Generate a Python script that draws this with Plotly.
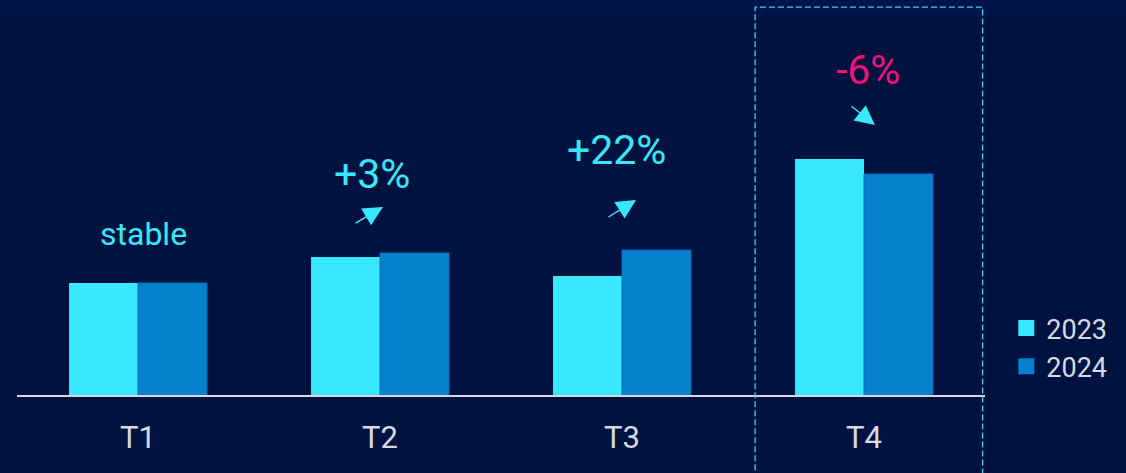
import plotly.graph_objects as go

categories = ["T1", "T2", "T3", "T4"]
values_2023 = [112, 138, 119, 236]
values_2024 = [112, 142, 145, 221]
change_labels = ["stable", "+3%", "+22%", "-6%"]
series_names = ["2023", "2024"]

C23 = "#38e8ff"
C24 = "#0681cd"
BG = "#001240"

fig = go.Figure()
fig.add_trace(go.Bar(x=categories, y=values_2023, name=series_names[0], showlegend=False,
                     marker=dict(color=C23, line=dict(width=0))))
fig.add_trace(go.Bar(x=categories, y=values_2024, name=series_names[1], showlegend=False,
                     marker=dict(color=C24, line=dict(color="#0a6fb5", width=1))))
# legend entries with larger square swatches
for nm, col in zip(series_names, [C23, C24]):
    fig.add_trace(go.Scatter(x=[None], y=[None], mode="markers", name=nm,
                             marker=dict(symbol="square", size=16, color=col, line=dict(width=0))))

ann = []
ann.append(dict(x=0.021, y=161, text=change_labels[0], showarrow=False,
                font=dict(size=32, color=C23), xref="x", yref="y"))
ann.append(dict(x=0.967, y=221, text=change_labels[1], showarrow=False,
                font=dict(size=41, color=C23), xref="x", yref="y"))
ann.append(dict(x=1.979, y=245, text=change_labels[2], showarrow=False,
                font=dict(size=41, color=C23), xref="x", yref="y"))
ann.append(dict(x=3.017, y=325, text=change_labels[3], showarrow=False,
                font=dict(size=41, color="#f0117a"), xref="x", yref="y"))
arrows = [((0.893, 171), (1.012, 188)), ((1.938, 177), (2.058, 195)), ((2.942, 290), (3.045, 270))]
for (tx, ty), (hx, hy) in arrows:
    ann.append(dict(x=hx, y=hy, ax=tx, ay=ty, axref="x", ayref="y", xref="x", yref="y",
                    text="", showarrow=True, arrowhead=2, arrowsize=3.0, arrowwidth=1.3,
                    arrowcolor=C23))

shapes = [
    dict(type="rect", xref="paper", yref="paper", x0=-0.1, x1=1.2, y0=0.955, y1=1.05,
         fillcolor="#00164b", line=dict(width=0), layer="below"),
    dict(type="rect", xref="x", yref="paper", x0=2.55, x1=3.49, y0=-0.4, y1=0.982,
         line=dict(color="#38d2f2", width=1.3, dash="6px,3px"), fillcolor="rgba(0,0,0,0)"),
]

fig.update_layout(
    width=1126, height=473,
    margin=dict(l=17, r=141, t=0, b=78),
    paper_bgcolor=BG, plot_bgcolor=BG,
    barmode="group", bargap=0.43, bargroupgap=0,
    font=dict(family="Roboto", color="#d6dae4"),
    xaxis=dict(showline=True, linecolor="#d8d8de", linewidth=2, showgrid=False,
               ticks="", tickfont=dict(size=31, color="#d6dae4"), zeroline=False,
               range=[-0.5, 3.5], ticklabelstandoff=14),
    yaxis=dict(visible=False, range=[0, 395], showgrid=False, zeroline=False),
    legend=dict(x=1.022, xanchor="left", y=0.01, yanchor="bottom",
                font=dict(size=27, color="#d6dae4"), bgcolor="rgba(0,0,0,0)",
                itemwidth=30, tracegroupgap=0),
    annotations=ann, shapes=shapes, showlegend=True,
)

fig.write_html("out.html")
